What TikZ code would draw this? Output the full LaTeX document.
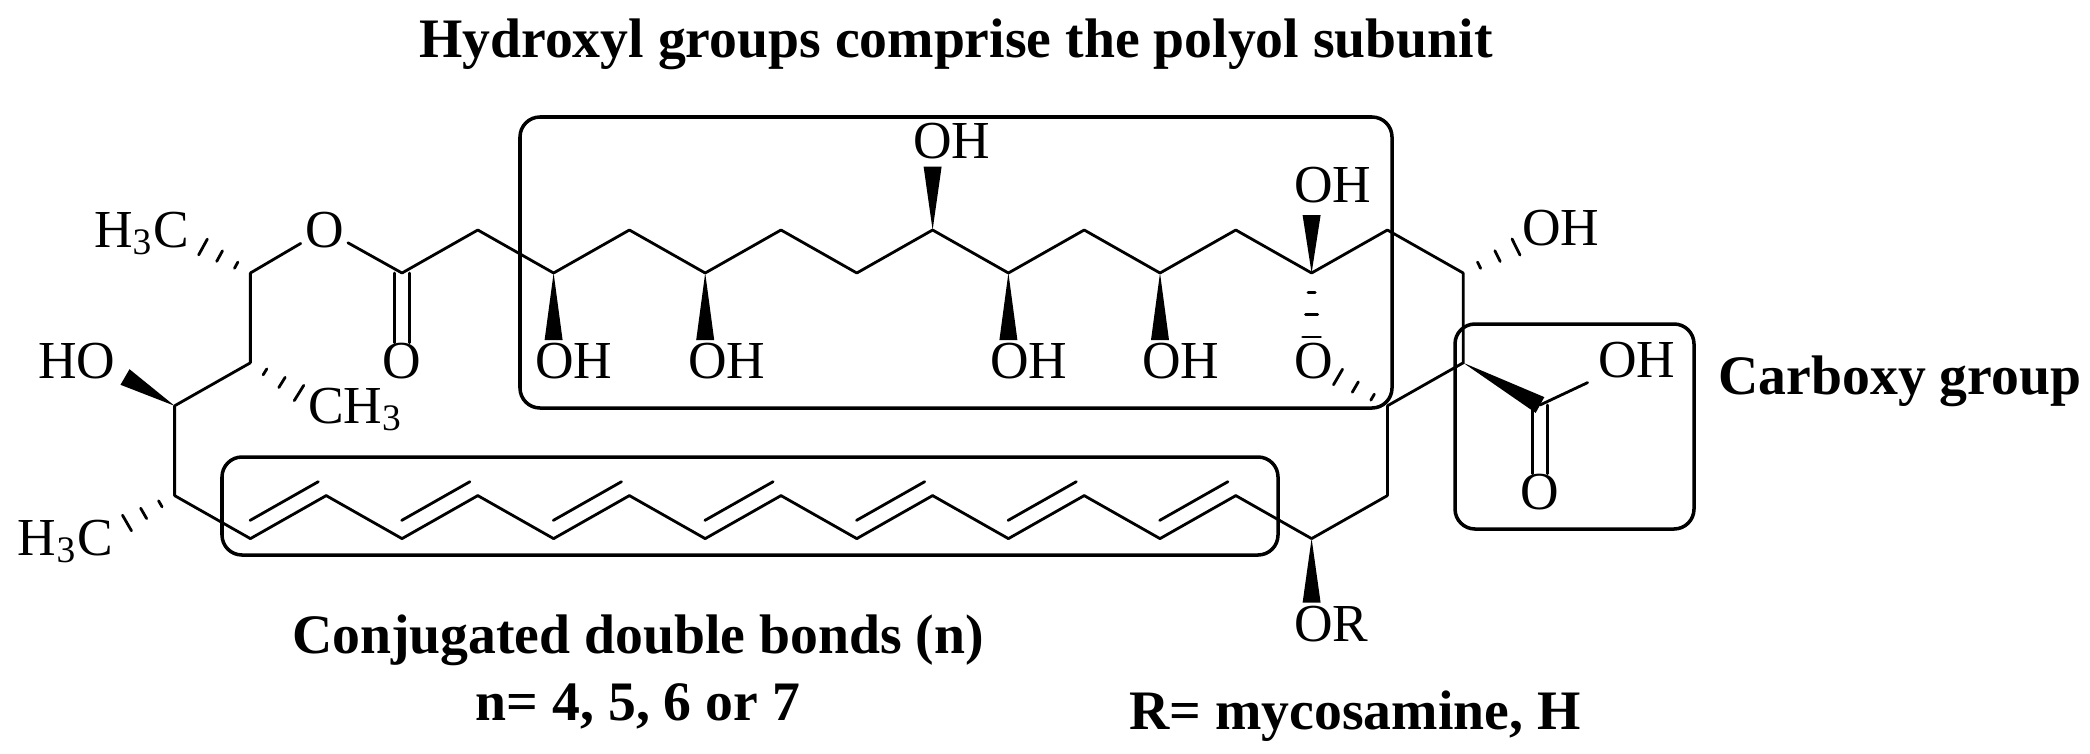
\documentclass[tikz,border=0pt]{standalone}
\usepackage{fontspec}
\setmainfont{Liberation Serif}
\usepackage{tikz}
\usetikzlibrary{calc}
\tikzstyle{vertex} = [inner sep=0pt, outer sep=0pt, minimum size=0pt]
\tikzstyle{atom} = [inner sep=0pt, outer sep=0pt, anchor=base west, font=\fontsize{15.2pt}{18pt}\selectfont]
\tikzstyle{caption} = [inner sep=0pt, outer sep=0pt, anchor=base, font=\fontsize{15.85pt}{18pt}\selectfont\bfseries]
\tikzstyle{groupbox} = [rectangle, rounded corners=0.2cm, draw=black, line width=1pt, inner sep=0pt, outer sep=0pt]
\tikzstyle{bond} = [line width=0.8pt, line cap=round, line join=round]
\newcommand{\dblbond}[2]{
    \draw [bond] (#1) -- (#2);
    \draw [bond] ($(#1)!0.1!(#2)!0.16cm!90:(#2)$) -- ($(#2)!0.16cm!-90:(#1)$);
}
\newcommand{\cobond}[2]{
    \draw [bond] ([xshift=-0.075cm]#1.center) -- ([xshift=-0.075cm]#2.north);
    \draw [bond] ([xshift=0.075cm]#1.center) -- ([xshift=0.075cm]#2.north);
}
\newcommand{\wedgebond}[2]{
    \fill (#1.center) -- ($(#2)!0.09cm!90:(#1)$) -- ($(#2)!0.09cm!-90:(#1)$) -- cycle;
}
\newcommand{\hashbond}[2]{
    \foreach \hpos/\hwid in {0.3/0.035, 0.65/0.06, 1/0.09}
        \draw [bond] ($(#1)!\hpos!(#2)!\hwid cm!90:(#1)$) -- ($(#1)!\hpos!(#2)!\hwid cm!-90:(#1)$);
}

\begin{document}
\begin{tikzpicture}[node distance = 0.758cm]
    \useasboundingbox (0,0) rectangle (20.9,-7.53);
    \node (c1) [vertex] at (4.02,-2.73) {};
    \node (c2) [vertex, right of=c1, yshift=0.43cm] {};
    \node (c3) [vertex, right of=c2, yshift=-0.43cm] {};
    \node (c4) [vertex, right of=c3, yshift=0.43cm] {};
    \node (c5) [vertex, right of=c4, yshift=-0.43cm] {};
    \node (c6) [vertex, right of=c5, yshift=0.43cm] {};
    \node (c7) [vertex, right of=c6, yshift=-0.43cm] {};
    \node (c8) [vertex, right of=c7, yshift=0.43cm] {};
    \node (c9) [vertex, right of=c8, yshift=-0.43cm] {};
    \node (c10) [vertex, right of=c9, yshift=0.43cm] {};
    \node (c11) [vertex, right of=c10, yshift=-0.43cm] {};
    \node (c12) [vertex, right of=c11, yshift=0.43cm] {};
    \node (c13) [vertex, right of=c12, yshift=-0.43cm] {};
    \node (c14) [vertex, right of=c13, yshift=0.43cm] {};
    \node (c15) [vertex, right of=c14, yshift=-0.43cm] {};
    \node (c16) [vertex, below of=c15, yshift=-0.14cm] {};
    \node (c17) [vertex, left of=c16, yshift=-0.43cm] {};
    \node (c18) [vertex, below of=c17, yshift=-0.14cm] {};
    \node (c19) [vertex, left of=c18, yshift=-0.43cm] {};
    \node (p1) [vertex, left of=c19, yshift=0.43cm] {};
    \node (p2) [vertex, left of=p1, yshift=-0.43cm] {};
    \node (p3) [vertex, left of=p2, yshift=0.43cm] {};
    \node (p4) [vertex, left of=p3, yshift=-0.43cm] {};
    \node (p5) [vertex, left of=p4, yshift=0.43cm] {};
    \node (p6) [vertex, left of=p5, yshift=-0.43cm] {};
    \node (p7) [vertex, left of=p6, yshift=0.43cm] {};
    \node (p8) [vertex, left of=p7, yshift=-0.43cm] {};
    \node (p9) [vertex, left of=p8, yshift=0.43cm] {};
    \node (p10) [vertex, left of=p9, yshift=-0.43cm] {};
    \node (p11) [vertex, left of=p10, yshift=0.43cm] {};
    \node (p12) [vertex, left of=p11, yshift=-0.43cm] {};
    \node (p13) [vertex, left of=p12, yshift=0.43cm] {};
    \node (p14) [vertex, left of=p13, yshift=-0.43cm] {};
    \node (l4) [vertex, left of=p14, yshift=0.43cm] {};
    \node (l3) [vertex, above of=l4, yshift=0.14cm] {};
    \node (l2) [vertex, right of=l3, yshift=0.43cm] {};
    \node (l1) [vertex, above of=l2, yshift=0.14cm] {};
    \node (k1) [vertex] at (15.40,-4.05) {};
    \node (oe) [atom] at (3.05,-2.47) {O};
    \node (oc) [atom, anchor=base] at (4.02,-3.78) {O};
    \node (meA) [atom] at (0.94,-2.47) {H\textsubscript{3}C};
    \node (meB) [atom] at (3.08,-4.23) {CH\textsubscript{3}};
    \node (meC) [atom] at (0.18,-5.55) {H\textsubscript{3}C};
    \node (hol) [atom] at (0.38,-3.78) {HO};
    \node (oh1) [atom] at (5.35,-3.78) {OH};
    \node (oh2) [atom] at (6.88,-3.78) {OH};
    \node (oh3) [atom] at (9.13,-1.58) {OH};
    \node (oh4) [atom] at (9.90,-3.78) {OH};
    \node (oh5) [atom] at (11.42,-3.78) {OH};
    \node (oh6) [atom] at (12.94,-2.02) {OH};
    \node (ob) [atom] at (12.94,-3.78) {O};
    \node (oh7) [atom] at (15.22,-2.45) {OH};
    \node (koh) [atom] at (15.98,-3.77) {OH};
    \node (ko) [atom, anchor=base] at (15.40,-5.09) {O};
    \node (orr) [atom] at (12.94,-6.41) {OR};
    \node (w1) [vertex] at (1.25,-3.77) {};
    \node (w2) [vertex, below of=c3, yshift=0.088cm] {};
    \node (w3) [vertex, below of=c5, yshift=0.088cm] {};
    \node (w4) [vertex, above of=c8, yshift=-0.125cm] {};
    \node (w5) [vertex, below of=c9, yshift=0.088cm] {};
    \node (w6) [vertex, below of=c11, yshift=0.088cm] {};
    \node (w7) [vertex, above of=c13, yshift=-0.18cm] {};
    \node (w8) [vertex, below of=c19, yshift=0.118cm] {};
    \node (ha) [vertex] at (2.03,-2.47) {};
    \node (hb) [vertex] at (2.99,-3.93) {};
    \node (hc) [vertex] at (1.27,-5.23) {};
    \node (hd) [vertex, below of=c13, yshift=0.118cm] {};
    \node (he) [vertex] at (13.38,-3.77) {};
    \node (hf) [vertex] at (15.16,-2.47) {};
    \node (polyol) [groupbox, minimum width=8.72cm, minimum height=2.91cm] at (9.56,-2.625) {};
    \node (diene) [groupbox, minimum width=10.56cm, minimum height=0.98cm] at (7.50,-5.06) {};
    \node (carboxy) [groupbox, minimum width=2.39cm, minimum height=2.05cm] at (15.745,-4.265) {};
    \node (capA) [caption] at (9.56,-0.57) {Hydroxyl groups comprise the polyol subunit};
    \node (capB) [caption] at (6.38,-6.53) {Conjugated double bonds (n)};
    \node (capC) [caption] at (6.38,-7.20) {n= 4, 5, 6 or 7};
    \node (capD) [caption] at (13.55,-7.29) {R= mycosamine, H};
    \node (capE) [caption] at (19.00,-3.94) {Carboxy group};
    \draw [bond] (c1) -- (c2) -- (c3) -- (c4) -- (c5) -- (c6) -- (c7) -- (c8) -- (c9) -- (c10) -- (c11) -- (c12) -- (c13) -- (c14) -- (c15) -- (c16) -- (c17) -- (c18) -- (c19) -- (p1);
    \draw [bond] (p2) -- (p3);
    \draw [bond] (p4) -- (p5);
    \draw [bond] (p6) -- (p7);
    \draw [bond] (p8) -- (p9);
    \draw [bond] (p10) -- (p11);
    \draw [bond] (p12) -- (p13);
    \draw [bond] (p14) -- (l4) -- (l3) -- (l2) -- (l1);
    \dblbond{p2}{p1}
    \dblbond{p4}{p3}
    \dblbond{p6}{p5}
    \dblbond{p8}{p7}
    \dblbond{p10}{p9}
    \dblbond{p12}{p11}
    \dblbond{p14}{p13}
    \draw [bond, shorten >=0.05cm] (l1) -- (oe);
    \draw [bond, shorten >=0.05cm] (c1) -- (oe);
    \cobond{c1}{oc}
    \cobond{k1}{ko}
    \draw [bond, shorten >=0.12cm] (k1) -- (koh);
    \wedgebond{l3}{w1}
    \wedgebond{c3}{w2}
    \wedgebond{c5}{w3}
    \wedgebond{c8}{w4}
    \wedgebond{c9}{w5}
    \wedgebond{c11}{w6}
    \wedgebond{c13}{w7}
    \wedgebond{c19}{w8}
    \wedgebond{c16}{k1}
    \hashbond{l1}{ha}
    \hashbond{l2}{hb}
    \hashbond{l4}{hc}
    \hashbond{c13}{hd}
    \hashbond{c17}{he}
    \hashbond{c15}{hf}
\end{tikzpicture}
\end{document}
